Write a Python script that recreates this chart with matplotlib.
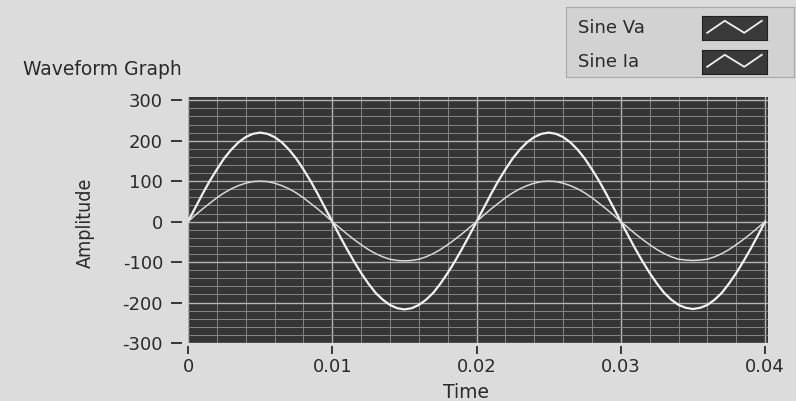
import matplotlib.pyplot as plt
from matplotlib.ticker import MultipleLocator

plt.rcParams["axes.unicode_minus"] = False

# values, one sample every half millisecond
time_s = [0.0000, 0.0005, 0.0010, 0.0015, 0.0020, 0.0025, 0.0030, 0.0035, 0.0040, 0.0045,
          0.0050, 0.0055, 0.0060, 0.0065, 0.0070, 0.0075, 0.0080, 0.0085, 0.0090, 0.0095,
          0.0100, 0.0105, 0.0110, 0.0115, 0.0120, 0.0125, 0.0130, 0.0135, 0.0140, 0.0145,
          0.0150, 0.0155, 0.0160, 0.0165, 0.0170, 0.0175, 0.0180, 0.0185, 0.0190, 0.0195,
          0.0200, 0.0205, 0.0210, 0.0215, 0.0220, 0.0225, 0.0230, 0.0235, 0.0240, 0.0245,
          0.0250, 0.0255, 0.0260, 0.0265, 0.0270, 0.0275, 0.0280, 0.0285, 0.0290, 0.0295,
          0.0300, 0.0305, 0.0310, 0.0315, 0.0320, 0.0325, 0.0330, 0.0335, 0.0340, 0.0345,
          0.0350, 0.0355, 0.0360, 0.0365, 0.0370, 0.0375, 0.0380, 0.0385, 0.0390, 0.0395,
          0.0400]
sine_va = [0, 34, 68, 100, 129, 156, 178, 196, 209, 217,
           220, 217, 209, 196, 178, 156, 129, 100, 68, 34,
           0, -34, -67, -98, -127, -153, -176, -193, -206, -214,
           -217, -214, -206, -193, -176, -153, -127, -98, -67, -34,
           0, 34, 68, 100, 129, 156, 178, 196, 209, 217,
           220, 217, 209, 196, 178, 156, 129, 100, 68, 34,
           0, -34, -67, -98, -127, -153, -176, -193, -206, -213,
           -216, -213, -206, -193, -176, -153, -127, -98, -67, -34,
           0]
sine_ia = [0, 16, 31, 45, 59, 71, 81, 89, 95, 99,
           100, 99, 95, 89, 81, 71, 59, 45, 31, 16,
           0, -15, -30, -44, -57, -69, -79, -87, -93, -96,
           -97, -96, -93, -87, -79, -69, -57, -44, -30, -15,
           0, 16, 31, 45, 59, 71, 81, 89, 95, 99,
           100, 99, 95, 89, 81, 71, 59, 45, 31, 16,
           0, -15, -30, -44, -57, -69, -79, -87, -93, -95,
           -96, -95, -93, -87, -79, -69, -57, -44, -30, -15,
           0]
series_names = ["Sine Va", "Sine Ia"]
x_ticks = [0, 0.01, 0.02, 0.03, 0.04]
x_tick_labels = ["0", "0.01", "0.02", "0.03", "0.04"]
y_ticks = [-300, -200, -100, 0, 100, 200, 300]

panel = "#dcdcdc"
plot_bg = "#353535"
text_col = "#2a2a2a"

fig = plt.figure(figsize=(7.96, 4.01), dpi=100, facecolor=panel)
ax = fig.add_axes([188 / 796, 1 - 343 / 401, 580 / 796, 246 / 401])
ax.set_facecolor(plot_bg)

ax.plot(time_s, sine_va, color="#f2f2f2", lw=1.6)
ax.plot(time_s, sine_ia, color="#d8d8d8", lw=1.1)

ax.set_xlim(0, 0.0402)
ax.set_ylim(-300, 308)

ax.set_xticks(x_ticks)
ax.set_xticklabels(x_tick_labels)
ax.set_yticks(y_ticks)
ax.xaxis.set_minor_locator(MultipleLocator(0.002))
ax.yaxis.set_minor_locator(MultipleLocator(20))
ax.grid(which="major", color="#b4b4b4", lw=1.0)
ax.grid(which="minor", color="#858585", lw=0.7)
ax.set_axisbelow(True)

# LabVIEW style ticks: short marks set a little away from the plot area
ax.spines["left"].set_position(("outward", 4))
ax.spines["bottom"].set_position(("outward", 2))
for s in ax.spines.values():
    s.set_visible(False)
ax.tick_params(axis="y", which="major", colors=text_col, labelsize=13,
               length=8, width=1.3, pad=6)
ax.tick_params(axis="x", which="major", colors=text_col, labelsize=13,
               length=6, width=1.3, pad=3)
ax.tick_params(axis="both", which="minor", length=0)

ax.set_xlabel("Time", fontsize=13.5, color=text_col)
ax.xaxis.set_label_coords(0.48, -0.163)
ax.set_ylabel("Amplitude", fontsize=14, color=text_col,
              family="DejaVu Sans", stretch="condensed")
ax.yaxis.set_label_coords(-0.16, 0.49)

fig.text(23 / 796, 1 - 75 / 401, "Waveform Graph", fontsize=13.5,
         color=text_col, va="baseline")

# legend box in the top right corner
leg = fig.add_axes([566 / 796, 1 - 77 / 401, 228 / 796, 70 / 401])
leg.set_facecolor("#d2d2d2")
leg.set_xticks([])
leg.set_yticks([])
for s in leg.spines.values():
    s.set_color("#a8a8a8")
    s.set_linewidth(0.8)
for i, name in enumerate(series_names):
    yc = 28 + i * 34
    fig.text(578 / 796, 1 - yc / 401, name, fontsize=13, color=text_col,
             va="center")
    sw = fig.add_axes([702 / 796, 1 - (yc + 12) / 401, 65 / 796, 24 / 401])
    sw.set_facecolor("#3a3a3a")
    sw.set_xticks([])
    sw.set_yticks([])
    sw.plot([0.08, 0.35, 0.65, 0.92], [0.3, 0.8, 0.3, 0.8], color="#f0f0f0",
            lw=1.3)
    sw.set_xlim(0, 1)
    sw.set_ylim(0, 1)
    for s in sw.spines.values():
        s.set_color("#222222")

fig.savefig("out.png", dpi=100, facecolor=panel)
